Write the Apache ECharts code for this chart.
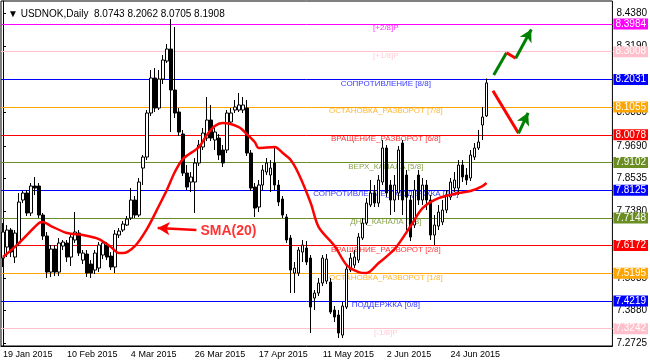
<!DOCTYPE html>
<html><head><meta charset="utf-8">
<script src="https://cdn.jsdelivr.net/npm/echarts@6/dist/echarts.min.js"></script>
<style>html,body{margin:0;padding:0;background:#fff}#c{width:650px;height:362px}</style>
</head><body><div id="c"></div>
<script>
const symbolName = 'USDNOK,Daily';
const dateLabels = ['19 Jan 2015','10 Feb 2015','4 Mar 2015','26 Mar 2015','17 Apr 2015','11 May 2015','2 Jun 2015','24 Jun 2015'];
const barsPerLabel = 16;
const totalSlots = 153;

const opens = [7.5733,7.6121,7.6720,7.5768,7.6262,7.7778,7.8025,7.7320,7.8272,7.8272,
7.7249,7.6509,7.5239,7.6050,7.5239,7.6156,7.6262,7.5768,7.6368,7.6614,
7.5662,7.5874,7.5521,7.5310,7.5380,7.5839,7.6191,7.5803,7.5416,7.6544,
7.6720,7.6896,7.7143,7.7778,7.7249,7.8906,7.9294,8.0846,8.2080,8.1022,
8.2044,8.2679,8.3102,8.1657,8.0881,8.0105,7.8730,7.8413,7.8413,7.9083,
7.9647,7.9964,8.0599,7.9894,7.9964,7.9541,7.9541,8.0528,8.0951,8.0951,
8.0951,8.1022,7.9435,7.8236,7.7531,7.8307,7.8765,7.8660,7.9083,7.8307,
7.7813,7.7179,7.6438,7.5204,7.5204,7.5944,7.6086,7.5733,7.4323,7.4499,
7.4851,7.4922,7.4887,7.3899,7.3723,7.3018,7.4005,7.5310,7.5486,7.5662,
7.6438,7.6967,7.7602,7.8025,7.7672,7.8413,7.9612,7.8307,7.7778,7.8025,
7.9788,7.8660,7.7778,7.6896,7.8660,7.7778,7.8307,7.7778,7.6544,7.6861,
7.7002,7.7425,7.7884,7.8201,7.8201,7.9012,7.8660,7.8554,7.9294,7.9612,
8.0423,8.0743];
const closes = [7.6650,7.6720,7.5944,7.6614,7.7707,7.8025,7.7320,7.8272,7.8201,7.7249,
7.6509,7.5239,7.6050,7.5239,7.6262,7.6297,7.5768,7.6473,7.6650,7.5909,
7.5909,7.5204,7.5204,7.5909,7.6191,7.6262,7.5768,7.5416,7.6579,7.6685,
7.6932,7.7108,7.7778,7.7249,7.8413,7.9294,8.0846,8.2080,8.1022,8.2044,
8.2714,8.3102,8.1657,8.0846,8.0176,7.8730,7.8236,7.8589,7.9083,7.9717,
8.0140,8.0599,7.9964,8.0176,7.9365,7.9083,8.0846,8.0846,8.1057,8.1128,
8.1128,7.9435,7.8201,7.7496,7.8307,7.8836,7.9083,7.8906,7.8307,7.7707,
7.7249,7.6368,7.5310,7.5380,7.6015,7.6191,7.5592,7.4005,7.4499,7.4851,
7.5733,7.5697,7.3829,7.3653,7.3088,7.4040,7.5345,7.5733,7.5768,7.6473,
7.6967,7.7672,7.8025,7.7672,7.8483,7.9612,7.8025,7.7778,7.8307,7.9541,
7.7778,7.7884,7.6473,7.8131,7.7778,7.8307,7.7778,7.6544,7.6896,7.7355,
7.7425,7.7954,7.8413,7.8483,7.9012,7.8589,7.8483,7.9365,7.9612,7.9823,
8.0705,8.1908];
const highs = [7.6967,7.6896,7.6791,7.6720,7.8025,7.8095,7.8131,7.8377,7.8589,7.8377,
7.7320,7.6650,7.6191,7.6191,7.6438,7.6368,7.6368,7.6614,7.7355,7.6720,
7.6015,7.6015,7.5662,7.6015,7.6297,7.6368,7.6297,7.5944,7.6720,7.6791,
7.7037,7.7214,7.8201,7.7919,7.8554,7.9365,8.0951,8.2362,8.2432,8.2362,
8.2891,8.3279,8.4160,8.3878,8.1022,8.0246,7.9012,7.8765,7.9259,7.9894,
8.0317,8.1410,8.1128,8.0317,8.0105,7.9717,8.0951,8.1022,8.1304,8.1551,
8.1410,8.1304,7.9541,7.8377,7.8483,7.9012,7.9259,7.9188,7.9647,7.8483,
7.7919,7.7284,7.6544,7.5592,7.6121,7.6368,7.6332,7.5839,7.4605,7.5028,
7.5839,7.5874,7.5028,7.4040,7.3899,7.4182,7.5451,7.5909,7.6015,7.6614,
7.7143,7.7848,7.8483,7.8307,7.8660,7.9894,7.9717,7.8483,7.8660,7.9682,
7.9894,7.8836,7.7954,7.8483,7.8836,7.8554,7.8483,7.7954,7.7249,7.7602,
7.7778,7.8131,7.8554,7.8765,7.9188,7.9188,7.8906,7.9541,7.9788,8.0246,
8.1057,8.2062];
const lows = [7.5416,7.5768,7.5768,7.5557,7.6156,7.7672,7.7214,7.7214,7.7954,7.7143,
7.6368,7.5028,7.5063,7.5098,7.5098,7.6015,7.5592,7.5451,7.6262,7.5803,
7.5521,7.5063,7.5028,7.5169,7.5239,7.5697,7.5662,7.5310,7.5204,7.6438,
7.6650,7.6861,7.7073,7.7143,7.7179,7.8307,7.9188,8.0740,8.0881,8.0951,
8.1868,8.2609,8.0176,8.0669,8.0035,7.8624,7.8131,7.8060,7.7320,7.8977,
7.9541,7.9858,7.9858,7.9541,7.9188,7.8942,7.9435,8.0423,8.0846,8.0881,
8.0846,7.9330,7.8095,7.7179,7.7355,7.8131,7.8660,7.8060,7.8131,7.7566,
7.7143,7.6262,7.4499,7.4499,7.5098,7.5592,7.5486,7.3088,7.3899,7.4393,
7.4746,7.4816,7.3758,7.3476,7.2912,7.2912,7.3935,7.5239,7.5380,7.5557,
7.6368,7.6896,7.7531,7.7531,7.7531,7.8307,7.7884,7.7249,7.7355,7.7778,
7.7249,7.6720,7.6332,7.6791,7.7602,7.7602,7.7425,7.6368,7.6191,7.6720,
7.6896,7.7320,7.7778,7.8060,7.7954,7.8413,7.8307,7.8448,7.9188,7.9541,
7.9894,8.0705];

const smaIndex = [0,4,9,10,12,16,20,24,27,29,30,33,36,39,41,43,45,49,51,53,55,59,61,63,64,68,70,72,74,77,79,83,86,89,91,94,98,102,105,109,114,117,120,121];
const smaValues = [7.5768,7.6262,7.6967,7.7002,7.6861,7.6614,7.6544,7.6403,7.6121,7.5909,7.5909,7.6156,7.6755,7.7566,7.8131,7.8765,7.9224,7.9647,8.0070,8.0387,8.0493,8.0352,8.0105,7.9823,7.9612,7.9647,7.9435,7.9188,7.8695,7.7672,7.6826,7.6156,7.5486,7.5239,7.5204,7.5557,7.6050,7.6861,7.7496,7.7848,7.8025,7.8095,7.8272,7.8377];

const levelValues = [8.3984,8.3008,8.2031,8.1055,8.0078,7.9102,7.8125,7.7148,7.6172,7.5195,7.4219,7.3242];
const levelNames = ['[+2/8]P','[+1/8]P','СОПРОТИВЛЕНИЕ [8/8]','ОСТАНОВКА_РАЗВОРОТ [7/8]','ВРАЩЕНИЕ_РАЗВОРОТ [6/8]','ВЕРХ_КАНАЛА [5/8]','СОПРОТИВЛЕНИЕ_ПОДДЕРЖКА [4/8]','ДНС_КАНАЛА [3/8]','ВРАЩЕНИЕ_РАЗВОРОТ [2/8]','ОСТАНОВКА_РАЗВОРОТ [1/8]','ПОДДЕРЖКА [0/8]','[-1/8]P'];
const levelColors = ['#ff00ff','#ffc0cb','#0000ff','#ffa500','#ff0000','#6b8e23','#0000ff','#6b8e23','#ff0000','#ffa500','#0000ff','#ffc0cb'];
const levelTextSlot = 95.8;
const priceTicks = [7.2725,7.3880,7.5035,7.6190,7.7380,7.8535,7.9690,8.0880,8.2035,8.3190,8.4380];
const yMin = 7.2632, yMax = 8.4795;

// forecast arrows (bar slot, price)
const upPath = [[122.8,8.2186],[126.0,8.2972],[128.3,8.2774],[132.2,8.3793]];
const upColors = ['#008000','#ff0000','#008000'];
const downPath = [[122.6,8.1632],[129.0,8.0130],[131.4,8.0853]];
const downColors = ['#ff0000','#008000'];
const smaArrow = [[48.4,7.6720],[38.7,7.6791]];
const smaLabelPos = [49.4,7.6667];
const smaLabelText = 'SMA(20)';

const n = opens.length;
const lastIdx = n - 1;
const slots = Array.from({length: totalSlots}, (_, i) => String(i));
const candleData = opens.map((o, i) => [o, closes[i], lows[i], highs[i]]);
const smaData = smaIndex.map((x, i) => [x, smaValues[i]]);
const titleText = '\u25BC ' + symbolName + '  ' + [opens[lastIdx], highs[lastIdx], lows[lastIdx], closes[lastIdx]].map(v => v.toFixed(4)).join(' ');

function segs(path, colors, width) {
  const out = [];
  for (let i = 0; i < path.length - 1; i++) {
    const last = i === path.length - 2;
    out.push([
      {coord: path[i], symbol: 'none', lineStyle: {color: colors[i], width: width}},
      {coord: path[i + 1], symbol: last ? 'arrow' : 'none', symbolSize: last ? [10, 12] : 0}
    ]);
  }
  return out;
}
const arrowLines = [].concat(segs(upPath, upColors, 3), segs(downPath, downColors, 3), segs(smaArrow, ['#ff0000'], 2.5));

const markValues = [closes[lastIdx]].concat(levelValues);
const levelLines = [{yAxis: closes[lastIdx], lineStyle: {opacity: 0}, label: {backgroundColor: '#000'}}]
  .concat(levelValues.map((v, i) => ({yAxis: v, lineStyle: {color: levelColors[i]}, label: {backgroundColor: levelColors[i]}})));

const chart = echarts.init(document.getElementById('c'));
chart.setOption({
  animation: false,
  backgroundColor: '#fff',
  title: {text: titleText, left: 3, top: 4, textStyle: {fontSize: 10, fontWeight: 'normal', color: '#000', fontFamily: 'Liberation Sans, DejaVu Sans'}},
  grid: {left: 0, right: 37, top: 1, bottom: 16, show: true, borderColor: '#000', borderWidth: 1, backgroundColor: '#fff'},
  xAxis: [{
    type: 'category', data: slots, boundaryGap: true,
    axisLine: {lineStyle: {color: '#000'}},
    axisTick: {alignWithLabel: true, length: 3, lineStyle: {color: '#000'}, interval: (i) => i % barsPerLabel === 0 && i / barsPerLabel < dateLabels.length},
    axisLabel: {interval: 0, align: 'left', margin: 4, fontSize: 9, color: '#000', fontFamily: 'Liberation Sans',
      formatter: (v, i) => (i % barsPerLabel === 0 && dateLabels[i / barsPerLabel]) ? dateLabels[i / barsPerLabel] : ''},
    splitLine: {show: false}
  }, {
    type: 'value', min: -0.5, max: totalSlots - 0.5, show: false, splitLine: {show: false}
  }],
  yAxis: {
    type: 'value', position: 'right', min: yMin, max: yMax, scale: true,
    axisLine: {show: true, lineStyle: {color: '#000'}},
    axisTick: {show: true, length: 3, customValues: priceTicks, lineStyle: {color: '#000'}},
    axisLabel: {customValues: priceTicks, margin: 4, fontSize: 10, color: '#000', fontFamily: 'Liberation Sans', formatter: v => v.toFixed(4)},
    splitLine: {show: false}
  },
  series: [
    {
      type: 'scatter', name: 'levels', xAxisIndex: 1, yAxisIndex: 0, z: 1, symbolSize: 0, silent: true,
      data: levelValues.map((v, i) => ({value: [levelTextSlot, v], label: {formatter: levelNames[i], color: levelColors[i]}})),
      label: {show: true, position: 'bottom', distance: 0, fontSize: 8, fontFamily: 'Liberation Sans'},
      markLine: {
        z: 1, silent: true, symbol: ['none', 'none'], animation: false, precision: 4,
        lineStyle: {type: 'solid', width: 1},
        label: {show: true, position: 'end', distance: 1, color: '#fff', fontSize: 10, fontFamily: 'Liberation Sans', padding: [1, 2, 0, 2],
          formatter: p => markValues[p.dataIndex].toFixed(4)},
        data: levelLines
      }
    },
    {
      type: 'candlestick', name: 'USDNOK', xAxisIndex: 0, yAxisIndex: 0, z: 3, barWidth: 3,
      data: candleData,
      itemStyle: {color: '#ffffff', color0: '#000000', borderColor: '#000000', borderColor0: '#000000', borderWidth: 1}
    },
    {
      type: 'line', name: 'SMA(20)', xAxisIndex: 1, yAxisIndex: 0, z: 4, data: smaData, smooth: 0.3,
      symbol: 'none', lineStyle: {color: '#ff0000', width: 2.5}
    },
    {
      type: 'scatter', name: 'notes', xAxisIndex: 1, yAxisIndex: 0, z: 6, symbolSize: 0, silent: true,
      data: [{value: smaLabelPos}],
      label: {show: true, position: 'right', distance: 0, formatter: smaLabelText, fontSize: 14, fontWeight: 'bold', color: '#ff0000', fontFamily: 'Liberation Sans'},
      markLine: {
        z: 6, silent: true, animation: false, label: {show: false}, precision: 4,
        lineStyle: {type: 'solid'},
        data: arrowLines
      }
    }
  ]
});
</script></body></html>
